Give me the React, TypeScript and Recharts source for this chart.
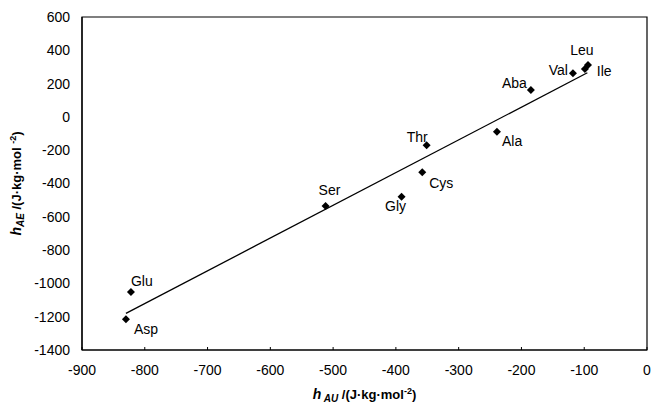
import React from 'react';
import { ScatterChart, Scatter, XAxis, YAxis, ReferenceArea } from 'recharts';

// amino acids and their enthalpic interaction coefficients
const aminoAcids = ['Asp', 'Glu', 'Ser', 'Gly', 'Cys', 'Thr', 'Ala', 'Aba', 'Val', 'Leu', 'Ile'];
const hAU = [-830, -822, -512, -391, -358, -351, -239, -185, -118, -94, -99];
const hAE = [-1215, -1052, -535, -480, -333, -171, -89, 162, 262, 312, 288];

// regression line ends
const fitX = [-830, -95];
const fitY = [-1180, 265];

const xTicks = [-900, -800, -700, -600, -500, -400, -300, -200, -100, 0];
const yTicks = [-1400, -1200, -1000, -800, -600, -400, -200, 0, 200, 400, 600];

const points = aminoAcids.map((name, i) => ({ name, x: hAU[i], y: hAE[i] }));
const fitLine = fitX.map((x, i) => ({ x, y: fitY[i] }));

// where each name sits relative to its marker: dx, dy, anchor
const labelPlacement: Record<string, [number, number, 'start' | 'middle' | 'end']> = {
  Asp: [8, 15, 'start'],
  Glu: [0, -6, 'start'],
  Ser: [-7, -11, 'start'],
  Gly: [-6, 14, 'middle'],
  Cys: [7, 16, 'start'],
  Thr: [1, -3, 'end'],
  Ala: [5, 14, 'start'],
  Aba: [-4, -2, 'end'],
  Val: [-5, 2, 'end'],
  Leu: [-6, -10, 'middle'],
  Ile: [12, 7, 'start'],
};

const FONT = '"Liberation Sans", Arial, sans-serif';

const DiamondPoint = (props: any) => {
  const { cx, cy, payload } = props;
  const r = 4;
  const [dx, dy, anchor] = labelPlacement[payload.name] || [6, -6, 'start'];
  return (
    <g>
      <path d={`M${cx},${cy - r}L${cx + r},${cy}L${cx},${cy + r}L${cx - r},${cy}Z`} fill="#000" />
      <text x={cx + dx} y={cy + dy} textAnchor={anchor} fontSize={14} fontFamily={FONT} fill="#000">
        {payload.name}
      </text>
    </g>
  );
};

const XTitle = (props: any) => {
  const { viewBox } = props;
  const cx = viewBox.x + viewBox.width / 2;
  return (
    <text x={cx} y={399} textAnchor="middle" fontSize={13} fontWeight="bold" fontFamily={FONT} fill="#000">
      <tspan fontStyle="italic" fontSize={14}>h</tspan>
      <tspan fontStyle="italic" fontSize={10} dy={3}> AU</tspan>
      <tspan dy={-3}>{'  /(J·kg·mol'}</tspan>
      <tspan fontSize={9} dy={-5}>-2</tspan>
      <tspan dy={5}>)</tspan>
    </text>
  );
};

const YTitle = (props: any) => {
  const { viewBox } = props;
  const cy = viewBox.y + viewBox.height / 2;
  return (
    <text
      x={21}
      y={cy}
      transform={`rotate(-90, 21, ${cy})`}
      textAnchor="middle"
      fontSize={13}
      fontWeight="bold"
      fontFamily={FONT}
      fill="#000"
    >
      <tspan fontStyle="italic" fontSize={14}>h</tspan>
      <tspan fontStyle="italic" fontSize={10} dy={3}>AE</tspan>
      <tspan dy={-3}>{' /(J·kg·mol '}</tspan>
      <tspan fontSize={9} dy={-5}>-2</tspan>
      <tspan dy={5}>)</tspan>
    </text>
  );
};

const tickStyle = { fontSize: 14, fontFamily: FONT, fill: '#000' };

export default function App() {
  return (
    <div style={{ position: 'absolute', left: 0, top: 0, background: '#fff' }}>
      <ScatterChart width={651} height={408} margin={{ top: 17, right: 4, bottom: 0, left: 0 }}>
        <XAxis
          type="number"
          dataKey="x"
          domain={[-900, 0]}
          ticks={xTicks}
          allowDataOverflow
          height={58}
          axisLine={{ stroke: '#000', strokeWidth: 1.2 }}
          tickLine={{ stroke: '#000' }}
          tickSize={-3}
          tickMargin={18}
          tick={tickStyle}
          label={<XTitle />}
        />
        <YAxis
          type="number"
          dataKey="y"
          domain={[-1400, 600]}
          ticks={yTicks}
          allowDataOverflow
          width={82}
          axisLine={{ stroke: '#000', strokeWidth: 1.2 }}
          tickLine={false}
          tickMargin={6}
          tick={tickStyle}
          label={<YTitle />}
        />
        <ReferenceArea x1={-900} x2={0} y1={-1400} y2={600} fill="none" stroke="#000" strokeWidth={1.2} />
        <Scatter
          data={fitLine}
          line={{ stroke: '#000', strokeWidth: 1.3 }}
          shape={() => null}
          isAnimationActive={false}
        />
        <Scatter data={points} shape={<DiamondPoint />} isAnimationActive={false} />
      </ScatterChart>
    </div>
  );
}
